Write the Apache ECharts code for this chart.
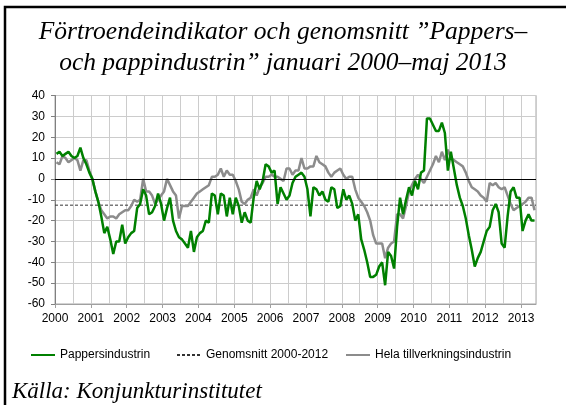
<!DOCTYPE html>
<html>
<head>
<meta charset="utf-8">
<script src="https://cdn.jsdelivr.net/npm/echarts@6/dist/echarts.min.js"></script>
<style>
  html, body { margin: 0; padding: 0; background: #fff; }
  #chart { width: 566px; height: 405px; }
</style>
</head>
<body>
<div id="chart"></div>
<script>
// månadsvärden jan 2000 - maj 2013
const startYear = 2000
const pappers = [
  12, 13, 11, 12, 13, 11, 10, 11, 15, 10, 7, 3,
  0, -6, -11, -18, -26, -23, -29, -36, -30, -30, -22, -31,
  -28, -26, -25, -14, -12, -5, -8, -17, -16, -13, -7, -12,
  -20, -14, -9, -20, -25, -28, -29, -31, -33, -25, -35, -28,
  -26, -25, -20, -21, -7, -8, -17, -7, -8, -18, -9, -17,
  -9, -13, -21, -16, -20, -21, -9, -1, -5, -1, 7, 6,
  3, 4, -12, -4, -7, -10, -8, -2, 1, 2, 3, 1,
  -5, -18, -4, -5, -8, -6, -10, -11, -4, -5, -14, -13,
  -5, -10, -8, -12, -20, -17, -29, -34, -40, -47, -47, -46,
  -42, -40, -51, -35, -37, -43, -23, -9, -17, -10, -4, -8,
  -1, -5, 3, 4, 29, 29, 26, 23, 23, 27, 22, 4,
  13, 5, -3, -9, -13, -19, -27, -34, -42, -38, -35, -30,
  -25, -23, -15, -12, -16, -31, -33, -18, -6, -4, -9, -9,
  -25, -20, -17, -20, -20
]
const hela = [
  8, 7, 11, 10, 8, 9, 10, 9, 4, 9, 9, 4,
  0, -6, -11, -15, -17, -19, -18, -18, -19, -17, -16, -15,
  -15, -13, -10, -11, -10, 0, -6, -6, -8, -12, -10, -8,
  -6, 0, -3, -6, -8, -19, -13, -13, -13, -11, -9, -7,
  -6, -5, -4, -3, 1, 1, 2, 5, 1, 4, 2, 2,
  -1, -5, -11, -12, -10, -9, -5, -8, -4, -2, 1, 1,
  2, 1, 1, 0, -1, 5, 5, 2, 4, 4, 10, 5,
  5, 6, 6, 11, 8, 7, 6, 3, 1, 3, 4, 5,
  2, 0, 1, 1, -5, -9, -11, -13, -16, -20, -27, -31,
  -31, -31, -38, -33, -31, -30, -17, -17, -19, -13, -6, -3,
  0, 2, 0, -2, 1, 4, 7, 11, 8, 13, 9, 14,
  10, 9, 8, 7, 6, 3, -1, -4, -5, -6, -8, -9,
  -11, -2, -3, -2, -4, -5, -4, -8, -12, -15, -14, -13,
  -12, -11, -9, -9, -15
]
const genomsnitt = -12.6
const nollLinje = 0
const months = pappers.length

const sans = 'Liberation Sans'
const serif = 'Liberation Serif'

const chart = echarts.init(document.getElementById('chart'))

const toPoints = arr => arr.map((v, i) => [i + 0.5, v])

// itemHeight 1 gör symbolen i förklaringen osynlig
const legendBase = {
  top: 344,
  itemWidth: 24,
  itemHeight: 1,
  itemGap: 0,
  textStyle: { fontFamily: sans, fontSize: 12, color: '#000' }
}

const option = {
  animation: false,
  title: {
    text: 'Förtroendeindikator och genomsnitt ”Pappers–\noch pappindustrin” januari 2000–maj 2013',
    left: 'center',
    top: 12,
    padding: [5, 0, 5, 16],
    textStyle: {
      fontFamily: serif,
      fontStyle: 'italic',
      fontWeight: 'normal',
      fontSize: 25.5,
      lineHeight: 31,
      color: '#000'
    }
  },
  legend: [
    Object.assign({}, legendBase, { left: 25, data: ['Pappersindustrin'] }),
    Object.assign({}, legendBase, { left: 171, data: ['Genomsnitt 2000-2012'] }),
    Object.assign({}, legendBase, { left: 340, data: ['Hela tillverkningsindustrin'] })
  ],
  graphic: [
    {
      type: 'rect',
      shape: { x: 5, y: 7, width: 800, height: 600 },
      style: { fill: 'none', stroke: '#000', lineWidth: 2.5 },
      silent: true
    },
    {
      type: 'text',
      left: 12,
      top: 380,
      style: {
        text: 'Källa: Konjunkturinstitutet',
        font: 'italic 23px "Liberation Serif"',
        fill: '#000'
      }
    }
  ],
  grid: {
    left: 55,
    right: 30,
    top: 95.5,
    bottom: 101,
    show: true,
    borderColor: '#a6a6a6',
    borderWidth: 1
  },
  xAxis: [
    {
      // halvårs rutnät
      type: 'value',
      min: 0,
      max: months,
      interval: 6,
      axisLine: { show: false },
      axisTick: { show: false },
      axisLabel: { show: false },
      splitLine: { show: true, lineStyle: { color: '#cccccc', width: 1 } }
    },
    {
      type: 'value',
      min: 0,
      max: months,
      interval: 12,
      position: 'bottom',
      axisLine: { show: true, lineStyle: { color: '#a0a0a0' } },
      axisTick: { show: true, length: 4, lineStyle: { color: '#a0a0a0' } },
      splitLine: { show: false },
      axisLabel: {
        fontFamily: sans,
        fontSize: 12,
        color: '#000',
        margin: 9,
        showMaxLabel: false,
        formatter: v => (v % 12 === 0 ? String(startYear + v / 12) : '')
      }
    }
  ],
  yAxis: {
    type: 'value',
    min: -60,
    max: 40,
    interval: 10,
    axisLine: { show: true, lineStyle: { color: '#808080' } },
    axisTick: { show: true, length: 4, lineStyle: { color: '#808080' } },
    axisLabel: { fontFamily: sans, fontSize: 12, color: '#000', margin: 10 },
    splitLine: { show: true, lineStyle: { color: '#cccccc', width: 1 } }
  },
  series: [
    {
      name: 'Hela tillverkningsindustrin',
      type: 'line',
      data: toPoints(hela),
      symbol: 'none',
      color: '#8c8c8c',
      lineStyle: { color: '#8c8c8c', width: 2.5 },
      z: 3
    },
    {
      name: 'Genomsnitt 2000-2012',
      type: 'line',
      data: [[0, genomsnitt], [months, genomsnitt]],
      symbol: 'none',
      color: '#333',
      lineStyle: { color: '#333', width: 1, type: [3, 2] },
      z: 2
    },
    {
      name: 'Pappersindustrin',
      type: 'line',
      data: toPoints(pappers),
      symbol: 'none',
      color: '#008000',
      lineStyle: { color: '#008000', width: 2.5 },
      z: 4,
      markLine: {
        silent: true,
        symbol: 'none',
        label: { show: false },
        lineStyle: { color: '#000', width: 1, type: 'solid' },
        data: [{ yAxis: nollLinje }]
      }
    }
  ]
}

chart.setOption(option)
</script>
</body>
</html>
